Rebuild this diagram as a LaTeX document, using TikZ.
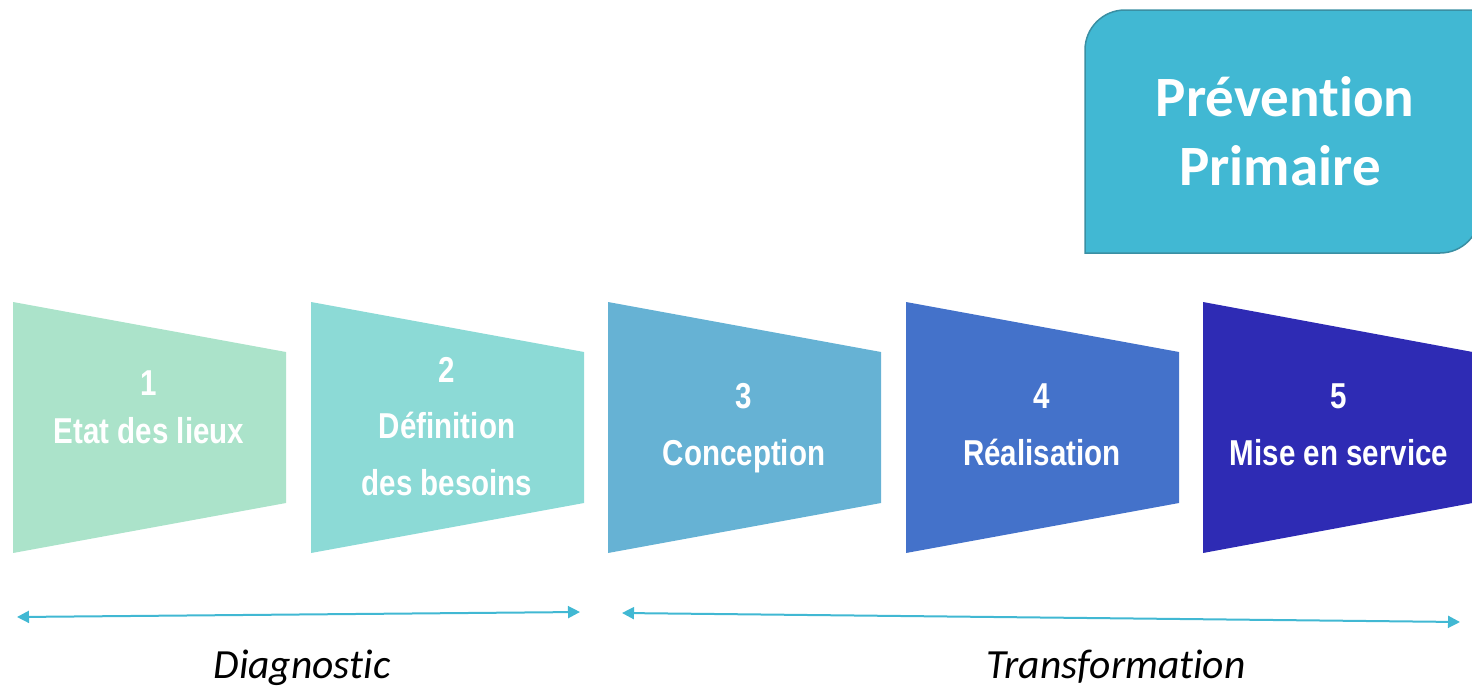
\documentclass[tikz,border=0pt]{standalone}
\usepackage{fontspec}
\setmainfont{Carlito}[Ligatures=NoCommon]
\newfontfamily\narrowfont[FakeStretch=0.82]{Liberation Sans}
\usetikzlibrary{arrows.meta}
\definecolor{cA}{HTML}{ABE3CA}
\definecolor{cB}{HTML}{8CDAD6}
\definecolor{cC}{HTML}{66B2D4}
\definecolor{cD}{HTML}{4472CA}
\definecolor{cE}{HTML}{2E2BB4}
\definecolor{boxfill}{HTML}{41B8D3}
\definecolor{boxline}{HTML}{3A8FA3}
\definecolor{arrowc}{HTML}{41B8D3}
\tikzset{
  steptext/.style={text=white, font=\narrowfont\bfseries\fontsize{36}{40}\selectfont, inner sep=0pt, anchor=base},
  phasetext/.style={text=black, font=\itshape\fontsize{41.5}{46}\selectfont, inner sep=0pt, anchor=base},
  boxtext/.style={text=white, font=\bfseries\fontsize{57}{69}\selectfont, inner sep=0pt, anchor=base},
  spanarrow/.style={draw=arrowc, line width=2pt, {Triangle[length=12pt,width=12pt]}-{Triangle[length=12pt,width=12pt]}},
}
\newcommand{\trap}[2]{% left x, colour
  \fill[#2] (#1,302) -- (#1+273,352) -- (#1+273,503) -- (#1,553) -- cycle;
}
\begin{document}
\begin{tikzpicture}[x=1pt,y=-1pt]
\useasboundingbox (0,0) rectangle (1472,688);
\clip (0,0) rectangle (1472,688);
% top right box
\draw[fill=boxfill, draw=boxline, line width=1.5pt]
  (1085,253) -- (1085,130) {[rounded corners=40pt] -- (1085,10) -- (1300,10)} -- (1480,10) -- (1480,130)
  {[rounded corners=40pt] -- (1480,253) -- (1300,253)} -- cycle;
\node[boxtext] (prevA) at (1285,116) {Prévention};
\node[boxtext] (prevB) at (1280,185) {Primaire};
% trapezoids
\trap{13}{cA}
\trap{311}{cB}
\trap{608}{cC}
\trap{906}{cD}
\fill[cE] (1203,302) -- (1478,353) -- (1478,502) -- (1203,553) -- cycle;
% texts
\node[steptext] (t1a) at (149,395) {1};
\node[steptext] (t1b) at (149,443) {Etat des lieux};
\node[steptext] (t2a) at (447,382) {2};
\node[steptext] (t2b) at (447,438) {Définition};
\node[steptext] (t2c) at (447,495) {des besoins};
\node[steptext] (t3a) at (744,408) {3};
\node[steptext] (t3b) at (744,465) {Conception};
\node[steptext] (t4a) at (1042,408) {4};
\node[steptext] (t4b) at (1042,465) {Réalisation};
\node[steptext] (t5a) at (1339,408) {5};
\node[steptext] (t5b) at (1339,465) {Mise en service};
% arrows
\coordinate (d1) at (17,617);
\coordinate (d2) at (580,612);
\coordinate (r1) at (622,613);
\coordinate (r2) at (1460,622);
\draw[spanarrow] (d1) -- (d2);
\draw[spanarrow] (r1) -- (r2);
\node[phasetext] (diag) at (302,678) {Diagnostic};
\node[phasetext] (trans) at (1116,678) {Transformation};
\end{tikzpicture}
\end{document}
